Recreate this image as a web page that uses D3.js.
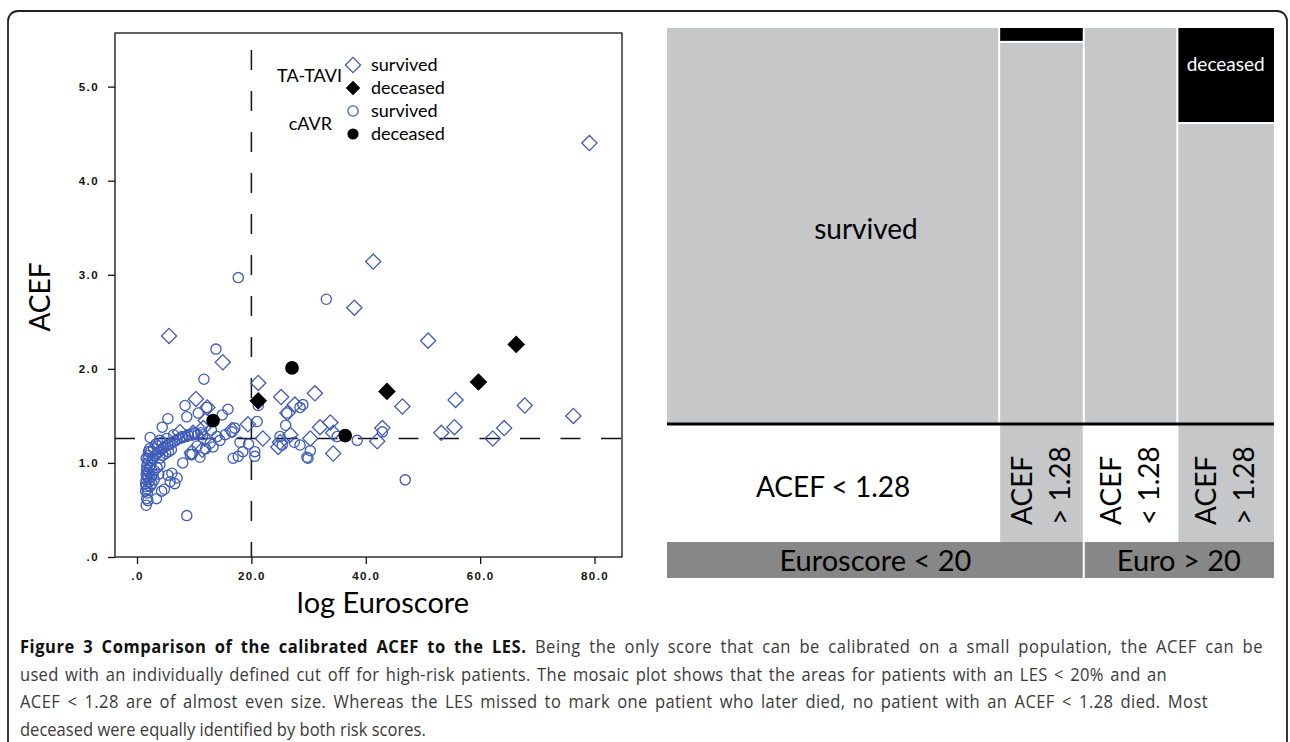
<!DOCTYPE html>
<html>
<head>
<meta charset="utf-8">
<script src="https://cdn.jsdelivr.net/npm/d3@7"></script>
<style>
  body { margin: 0; background: #fff; }
  svg { display: block; }
</style>
</head>
<body>
<svg id="fig" width="1290" height="742"></svg>
<script>
// ---- data ----
// TA-TAVI patients [log Euroscore, ACEF]
var taviSurvived = [
  [79.1,4.40],[41.3,3.14],[38.0,2.65],[5.6,2.35],[50.9,2.30],[15.0,2.07],[21.2,1.85],
  [31.1,1.74],[25.2,1.70],[55.7,1.67],[46.4,1.60],[67.8,1.61],[76.3,1.50],[27.6,1.62],
  [26.3,1.53],[10.3,1.68],[12.3,1.59],[19.4,1.41],[22.0,1.26],[26.8,1.30],[24.7,1.17],
  [9.8,1.32],[7.5,1.33],[11.4,1.14],[9.6,1.11],[16.6,1.35],[30.3,1.26],[32.0,1.38],
  [33.8,1.43],[34.3,1.32],[34.3,1.10],[42.0,1.23],[42.9,1.37],[53.2,1.32],[55.5,1.38],
  [62.2,1.26],[64.2,1.37],[12.0,1.45],[11.6,1.37],[11.8,1.26],[25.0,1.22]
];
var taviDeceased = [[21.2,1.66],[43.7,1.76],[59.7,1.86],[66.3,2.26]];
// cAVR patients
var cavrSurvived = [
  [1.6,0.55],[1.7,0.62],[1.9,0.60],[3.4,0.62],[4.3,0.70],[4.8,0.72],
  [1.5,0.78],[1.6,0.82],[1.8,0.86],[2.0,0.90],[1.7,0.93],[2.2,0.95],[2.4,0.98],
  [1.9,1.00],[2.6,1.02],[2.1,0.80],[2.5,0.85],[2.8,0.88],[3.0,0.92],[2.3,0.75],
  [1.5,0.70],[1.6,1.05],[2.8,1.05],[3.2,1.08],[3.5,1.10],
  [1.6,0.88],[1.7,0.97],[1.8,0.92],[1.9,1.04],[1.9,0.84],[1.6,0.75],[1.8,0.72],
  [2.0,1.08],[2.4,1.12],[2.9,1.15],[3.3,1.20],[1.8,0.68],[2.6,0.78],[3.0,0.82],
  [3.5,0.95],[4.0,0.98],[2.2,1.15],[2.0,1.12],[3.8,0.88],
  [3.8,1.12],[4.2,1.14],[4.6,1.16],[5.0,1.18],[5.4,1.19],[5.8,1.20],[6.2,1.22],
  [6.6,1.23],[7.0,1.25],[7.5,1.26],[8.0,1.27],[8.5,1.28],[9.0,1.29],[9.5,1.30],
  [10.0,1.31],[10.6,1.30],[11.2,1.32],[4.0,1.05],[4.5,1.08],[5.0,1.10],[5.5,1.12],
  [6.0,1.14],[3.6,1.18],[4.4,1.22],[5.2,1.26],[6.4,1.30],
  [2.3,1.27],[4.0,1.24],[4.4,1.38],[5.4,1.47],[8.4,1.61],[8.7,1.49],[10.7,1.53],
  [12.2,1.59],[13.8,2.21],[11.7,1.89],[14.9,1.51],[15.9,1.57],[17.7,2.97],
  [5.4,0.87],[6.1,0.89],[5.8,0.80],[7.0,0.84],[6.6,0.78],[8.0,1.00],[9.3,1.09],
  [9.6,1.09],[11.0,1.06],[8.7,0.44],[12.8,1.21],[13.3,1.17],[11.5,1.30],[10.1,1.32],
  [8.9,1.30],[7.9,1.28],
  [15.4,1.30],[14.5,1.24],[16.6,1.33],[17.1,1.37],[18.0,1.22],[16.8,1.05],[17.7,1.07],
  [18.5,1.12],[20.6,1.12],[20.6,1.07],[21.0,1.44],[21.2,1.61],[25.0,1.28],[25.4,1.19],
  [28.5,1.19],[29.7,1.06],[28.5,1.59],[26.2,1.53],[30.3,1.13],[29.9,1.05],[33.1,2.74],
  [35.0,1.28],[38.5,1.24],[42.9,1.33],[46.9,0.82],[27.5,1.22],[19.5,1.20],[13.0,1.35],
  [14.0,1.28],[12.0,1.15],[10.5,1.18],[26.0,1.40],[29.0,1.62]
];
var cavrDeceased = [[27.1,2.01],[13.3,1.45],[36.4,1.29]];

var cutEuro = 20;
var cutAcef = 1.26;
var xTicks = [0, 20, 40, 60, 80];
var yTicks = [0, 1, 2, 3, 4, 5];

// mosaic: columns (count decides width) and share of deceased
var mosaicGroups = ["Euroscore < 20", "Euro > 20"];
var mosaicCells = ["ACEF < 1.28", "ACEF > 1.28", "ACEF < 1.28", "ACEF > 1.28"];
var cellGroup = [0, 0, 1, 1];
var cellCount = [110, 28, 31, 32];
var cellDeceased = [0, 0.035, 0, 0.24];

var caption = [
  ["Figure 3 Comparison of the calibrated ACEF to the LES.", " Being the only score that can be calibrated on a small population, the ACEF can be"],
  ["", "used with an individually defined cut off for high-risk patients. The mosaic plot shows that the areas for patients with an LES < 20% and an"],
  ["", "ACEF < 1.28 are of almost even size. Whereas the LES missed to mark one patient who later died, no patient with an ACEF < 1.28 died. Most"],
  ["", "deceased were equally identified by both risk scores."]
];
var captionWidth = [1243, 1147, 1188, 0];

var blue = "#3f5cb8";
var font = "Lato, 'Open Sans', sans-serif";

var svg = d3.select("#fig");

// outer frame
svg.append("rect")
  .attr("x", 8).attr("y", 11)
  .attr("width", 1279).attr("height", 780)
  .attr("rx", 10)
  .attr("fill", "none")
  .attr("stroke", "#231f20")
  .attr("stroke-width", 1.8);

// ---- scatter ----
var x = d3.scaleLinear().domain([-3.85, 84.8]).range([115, 622]);
var y = d3.scaleLinear().domain([0, 5.57]).range([557, 33]);

var sc = svg.append("g");

sc.append("g")
  .attr("transform", "translate(115,0)")
  .call(d3.axisLeft(y).tickValues(yTicks).tickSize(7).tickPadding(9)
    .tickFormat(function (d) { return d === 0 ? ".0" : d.toFixed(1); }))
  .call(function (g) { g.select(".domain").remove(); });

sc.append("g")
  .attr("transform", "translate(0,557)")
  .call(d3.axisBottom(x).tickValues(xTicks).tickSize(7).tickPadding(8)
    .tickFormat(function (d) { return d === 0 ? ".0" : d.toFixed(1); }))
  .call(function (g) { g.select(".domain").remove(); });

sc.selectAll(".tick line").attr("stroke", "#111").attr("stroke-width", 1.3);
sc.selectAll(".tick text")
  .attr("font-family", "'Liberation Sans', Arial, sans-serif")
  .attr("font-weight", "bold")
  .attr("font-size", 11.5)
  .attr("letter-spacing", 1.4)
  .attr("fill", "#111");

sc.append("rect")
  .attr("x", 115).attr("y", 33)
  .attr("width", 507).attr("height", 524)
  .attr("fill", "none").attr("stroke", "#111").attr("stroke-width", 1.3);

// cut-off lines
sc.append("line")
  .attr("x1", x(cutEuro)).attr("x2", x(cutEuro))
  .attr("y1", 50).attr("y2", y(0))
  .attr("stroke", "#111").attr("stroke-width", 1.5)
  .attr("stroke-dasharray", "20,21");
sc.append("line")
  .attr("x1", 115).attr("x2", 622)
  .attr("y1", y(cutAcef)).attr("y2", y(cutAcef))
  .attr("stroke", "#111").attr("stroke-width", 1.5)
  .attr("stroke-dasharray", "20,20.5");

var diamond = d3.symbol().type(d3.symbolSquare).size(115);
var circle = d3.symbol().type(d3.symbolCircle).size(82);
var dot = d3.symbol().type(d3.symbolCircle).size(120);
var bigDiamond = d3.symbol().type(d3.symbolSquare).size(125);

function marks(data, sym, fill, stroke, rot) {
  sc.append("g").selectAll("path")
    .data(data)
    .join("path")
      .attr("d", sym)
      .attr("transform", function (d) {
        return "translate(" + x(d[0]) + "," + y(d[1]) + ")" + (rot ? " rotate(45)" : "");
      })
      .attr("fill", fill)
      .attr("stroke", stroke)
      .attr("stroke-width", 1.3);
}
marks(cavrSurvived, circle, "none", blue, false);
marks(taviSurvived, diamond, "none", blue, true);
marks(cavrDeceased, dot, "#000", "#000", false);
marks(taviDeceased, bigDiamond, "#000", "#000", true);

// legend
var legendItems = [
  {sym: diamond, fill: "none", stroke: blue, rot: true, label: "survived", y: 65},
  {sym: bigDiamond, fill: "#000", stroke: "#000", rot: true, label: "deceased", y: 88},
  {sym: circle, fill: "none", stroke: blue, rot: false, label: "survived", y: 111},
  {sym: dot, fill: "#000", stroke: "#000", rot: false, label: "deceased", y: 134}
];
var lg = svg.append("g");
lg.selectAll("path").data(legendItems).join("path")
  .attr("d", function (d) { return d.sym(); })
  .attr("transform", function (d) { return "translate(353," + d.y + ")" + (d.rot ? " rotate(45)" : "") + (d.fill === "#000" ? " scale(0.82)" : ""); })
  .attr("fill", function (d) { return d.fill; })
  .attr("stroke", function (d) { return d.stroke; })
  .attr("stroke-width", 1.3);
lg.selectAll("text.item").data(legendItems).join("text")
  .attr("class", "item")
  .attr("x", 371).attr("y", function (d) { return d.y; })
  .attr("dy", "0.35em")
  .attr("font-family", font).attr("font-size", 18)
  .text(function (d) { return d.label; });
lg.append("text").attr("x", 342).attr("y", 76).attr("dy", "0.35em")
  .attr("text-anchor", "end").attr("font-family", font).attr("font-size", 18)
  .text("TA-TAVI");
lg.append("text").attr("x", 332).attr("y", 124).attr("dy", "0.35em")
  .attr("text-anchor", "end").attr("font-family", font).attr("font-size", 18)
  .text("cAVR");

// axis titles
svg.append("text")
  .attr("transform", "translate(40,297) rotate(-90)")
  .attr("text-anchor", "middle").attr("dy", "0.35em")
  .attr("font-family", font).attr("font-size", 28)
  .text("ACEF");
svg.append("text")
  .attr("x", 383).attr("y", 613)
  .attr("text-anchor", "middle")
  .attr("font-family", font).attr("font-size", 29)
  .text("log Euroscore");

// ---- mosaic ----
var gray = "#c6c7c8";
var dark = "#878787";
var total = d3.sum(cellCount);
var mx = d3.scaleLinear().domain([0, total]).range([667, 1274]);
var my = d3.scaleLinear().domain([0, 1]).range([28, 424]);
var cum = 0;
var cells = cellCount.map(function (c, i) {
  var cell = {x0: mx(cum), x1: mx(cum + c), label: mosaicCells[i], group: cellGroup[i], dec: cellDeceased[i]};
  cum += c;
  return cell;
});

var mo = svg.append("g");
cells.forEach(function (c, i) {
  var l = c.x0 + (i ? 1 : 0), r = c.x1 - (i < cells.length - 1 ? 1 : 0);
  if (c.dec > 0) {
    mo.append("rect").attr("x", l).attr("y", my(0))
      .attr("width", r - l).attr("height", my(c.dec) - my(0) - 1).attr("fill", "#000");
    mo.append("rect").attr("x", l).attr("y", my(c.dec) + 1)
      .attr("width", r - l).attr("height", my(1) - my(c.dec) - 1).attr("fill", gray);
  } else {
    mo.append("rect").attr("x", l).attr("y", my(0))
      .attr("width", r - l).attr("height", my(1) - my(0)).attr("fill", gray);
  }
  var high = c.label.indexOf(">") >= 0;
  mo.append("rect").attr("x", l).attr("y", 425)
    .attr("width", r - l).attr("height", 117).attr("fill", high ? gray : "#fff");
  if (r - l > 200) {
    mo.append("text").attr("x", (c.x0 + c.x1) / 2).attr("y", 487).attr("dy", "0.35em")
      .attr("text-anchor", "middle").attr("font-family", font).attr("font-size", 28)
      .text(c.label);
  } else {
    var parts = [c.label.slice(0, 4), c.label.slice(5)];
    var cx = (c.x0 + c.x1) / 2;
    parts.forEach(function (p, j) {
      mo.append("text")
        .attr("transform", "translate(" + (cx - 19 + j * 38) + ",525) rotate(-90)")
        .attr("dy", "0.35em")
        .attr("font-family", font).attr("font-size", 28)
        .text(p);
    });
  }
});
mo.append("text").attr("x", 866).attr("y", 229).attr("dy", "0.35em")
  .attr("text-anchor", "middle").attr("font-family", font).attr("font-size", 28)
  .text("survived");
var decCell = cells[3];
mo.append("text").attr("x", (decCell.x0 + decCell.x1) / 2).attr("y", 64).attr("dy", "0.35em")
  .attr("text-anchor", "middle").attr("font-family", font).attr("font-size", 19)
  .attr("fill", "#fff").text("deceased");

mo.append("line").attr("x1", 667).attr("x2", 1274).attr("y1", 424).attr("y2", 424)
  .attr("stroke", "#000").attr("stroke-width", 3);

mosaicGroups.forEach(function (g, k) {
  var members = cells.filter(function (c) { return c.group === k; });
  var gx0 = members[0].x0, gx1 = members[members.length - 1].x1;
  mo.append("rect").attr("x", gx0 + (k ? 1 : 0)).attr("y", 542)
    .attr("width", gx1 - gx0 - 1).attr("height", 36).attr("fill", dark);
  mo.append("text").attr("x", (gx0 + gx1) / 2).attr("y", 561).attr("dy", "0.35em")
    .attr("text-anchor", "middle").attr("font-family", font).attr("font-size", 29)
    .text(g);
});

// ---- caption: condensed, justified lines ----
var cap = svg.append("g");
var capLines = caption.map(function (line, i) {
  var g = cap.append("g");
  var t = g.append("text")
    .attr("x", 0).attr("y", 0)
    .attr("font-family", "'Open Sans', sans-serif")
    .attr("font-size", 18.5);
  if (line[0]) t.append("tspan").attr("font-weight", "bold").attr("fill", "#111").text(line[0]);
  t.append("tspan").attr("fill", "#3a3a3a").text(line[1]);
  return {g: g, t: t, text: line[0] + line[1], i: i};
});
// line 2 fixes the condensing factor, leaving a little extra room per line
function nSpaces(s) { return s.split(" ").length - 1; }
var w2 = capLines[1].t.node().getComputedTextLength();
var squeeze = (captionWidth[1] - 3.5 * nSpaces(capLines[1].text)) / w2;
capLines.forEach(function (c) {
  c.g.attr("transform", "translate(20," + (653 + c.i * 27.7) + ") scale(" + squeeze + ",1)");
  if (captionWidth[c.i] > 0) {
    var w = c.t.node().getComputedTextLength();
    var extra = captionWidth[c.i] / squeeze - w;
    var ls = 0.45 * extra / c.text.length;
    c.t.attr("letter-spacing", ls);
    var w1 = c.t.node().getComputedTextLength();
    c.t.attr("word-spacing", (captionWidth[c.i] / squeeze - w1) / nSpaces(c.text));
  }
});
</script>
</body>
</html>
